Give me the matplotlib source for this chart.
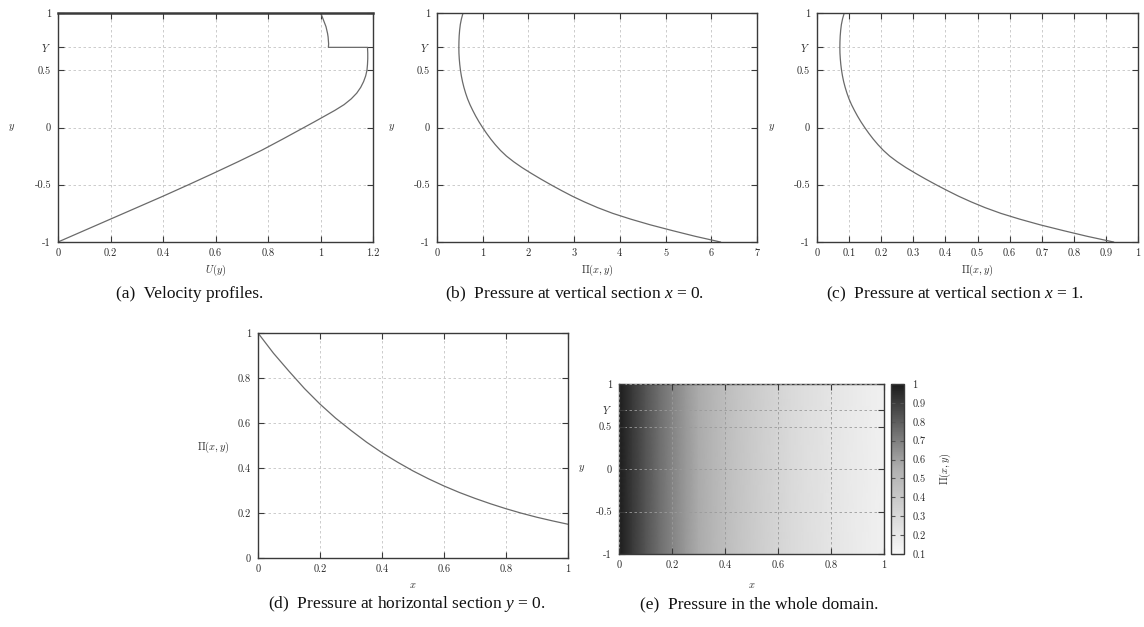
import numpy as np
import matplotlib
matplotlib.use("Agg")
import matplotlib.pyplot as plt
from matplotlib.colors import LinearSegmentedColormap

# ---------------- data ----------------
# (a) velocity profile U(y): lower branch up to y = Y, then jump, then upper branch
velocity_y = [-1.0, -0.9, -0.8, -0.7, -0.6, -0.5, -0.4, -0.3, -0.2, -0.15, -0.1, -0.05, 0.0,
              0.05, 0.1, 0.15, 0.2, 0.25, 0.3, 0.35, 0.4, 0.45, 0.5, 0.55, 0.6, 0.65, 0.7,
              0.7, 0.73, 0.76, 0.79, 0.82, 0.85, 0.88, 0.91, 0.94, 0.97, 1.0]
velocity_u = [0.0, 0.10, 0.20, 0.30, 0.40, 0.497, 0.592, 0.685, 0.775, 0.816, 0.857, 0.897, 0.937,
              0.977, 1.016, 1.055, 1.090, 1.117, 1.138, 1.153, 1.164, 1.172, 1.177, 1.179, 1.180, 1.180, 1.179,
              1.030, 1.031, 1.030, 1.029, 1.027, 1.024, 1.021, 1.016, 1.011, 1.006, 1.000]

# (b), (c) pressure at vertical sections x = 0 and x = 1
section_y = [1.0, 0.95, 0.9, 0.85, 0.8, 0.75, 0.7, 0.65, 0.6, 0.55, 0.5, 0.45, 0.4, 0.35, 0.3,
             0.25, 0.2, 0.15, 0.1, 0.05, 0.0, -0.05, -0.1, -0.15, -0.2, -0.25, -0.3, -0.35, -0.4,
             -0.45, -0.5, -0.55, -0.6, -0.65, -0.7, -0.75, -0.8, -0.85, -0.9, -0.95, -1.0]
pressure_x0 = [0.57, 0.535, 0.51, 0.495, 0.485, 0.48, 0.478, 0.48, 0.487, 0.498, 0.513, 0.533, 0.558, 0.589, 0.626,
               0.669, 0.721, 0.781, 0.846, 0.918, 0.997, 1.082, 1.174, 1.275, 1.388, 1.52, 1.68, 1.86, 2.06,
               2.27, 2.49, 2.72, 2.96, 3.225, 3.515, 3.845, 4.235, 4.665, 5.145, 5.645, 6.20]
pressure_x1 = [0.0849, 0.0797, 0.0760, 0.0738, 0.0723, 0.0715, 0.0712, 0.0715, 0.0726, 0.0742, 0.0764, 0.0794,
               0.0831, 0.0878, 0.0933, 0.0997, 0.1074, 0.1164, 0.1261, 0.1368, 0.1486, 0.1612, 0.1749, 0.1900,
               0.2068, 0.2265, 0.2503, 0.2771, 0.3069, 0.3382, 0.3710, 0.4053, 0.4410, 0.4805, 0.5237, 0.5729,
               0.6310, 0.6951, 0.7666, 0.8411, 0.9238]

# (d) pressure at horizontal section y = 0 (also the x-variation of panel (e))
section_x = [0.0, 0.05, 0.1, 0.15, 0.2, 0.25, 0.3, 0.35, 0.4, 0.45, 0.5,
             0.55, 0.6, 0.65, 0.7, 0.75, 0.8, 0.85, 0.9, 0.95, 1.0]
pressure_y0 = [1.0, 0.91, 0.83, 0.753, 0.684, 0.622, 0.567, 0.515, 0.468, 0.426, 0.387,
               0.352, 0.32, 0.291, 0.265, 0.241, 0.219, 0.199, 0.181, 0.165, 0.150]

# ticks
Y_LEVEL = 0.7
y_ticks = [-1, -0.5, 0, 0.5, Y_LEVEL, 1]
y_tick_labels = ["-1", "-0.5", "0", "0.5", "$Y$", "1"]
a_xticks = [0, 0.2, 0.4, 0.6, 0.8, 1.0, 1.2]
a_xlabels = ["0", "0.2", "0.4", "0.6", "0.8", "1", "1.2"]
b_xticks = [0, 1, 2, 3, 4, 5, 6, 7]
b_xlabels = ["0", "1", "2", "3", "4", "5", "6", "7"]
c_xticks = [0, 0.1, 0.2, 0.3, 0.4, 0.5, 0.6, 0.7, 0.8, 0.9, 1.0]
c_xlabels = ["0", "0.1", "0.2", "0.3", "0.4", "0.5", "0.6", "0.7", "0.8", "0.9", "1"]
unit_ticks = [0, 0.2, 0.4, 0.6, 0.8, 1.0]
unit_labels = ["0", "0.2", "0.4", "0.6", "0.8", "1"]
cbar_ticks = [0.1, 0.2, 0.3, 0.4, 0.5, 0.6, 0.7, 0.8, 0.9, 1.0]
cbar_labels = ["0.1", "0.2", "0.3", "0.4", "0.5", "0.6", "0.7", "0.8", "0.9", "1"]
cbar_range = (0.1, 1.0)

captions = [
    "(a)  Velocity profiles.",
    "(b)  Pressure at vertical section $x$ = 0.",
    "(c)  Pressure at vertical section $x$ = 1.",
    "(d)  Pressure at horizontal section $y$ = 0.",
    "(e)  Pressure in the whole domain.",
]

# ---------------- styling ----------------
plt.rcParams["mathtext.fontset"] = "custom"
plt.rcParams["mathtext.rm"] = "Liberation Serif"
plt.rcParams["mathtext.it"] = "Liberation Serif:italic"

W, H = 1144, 627
fig = plt.figure(figsize=(W / 100, H / 100), dpi=100)

SPINE = "#3a3a3a"
TXT = "#2a2a2a"
CURVE = "#6a6a6a"
GRID = "#c4c4c4"
TICKFS = 7.5


def px_axes(l, t, r, b):
    return fig.add_axes([l / W, 1 - b / H, (r - l) / W, (b - t) / H])


def style(ax, xticks, xlabels, yticks, ylabels, grid_on_top=False):
    ax.set_xticks(xticks)
    ax.set_xticklabels(xlabels)
    ax.set_yticks(yticks)
    ax.set_yticklabels(ylabels)
    for lbl in ax.get_xticklabels() + ax.get_yticklabels():
        lbl.set_fontfamily("cmr10")
        lbl.set_math_fontfamily("cm")
        lbl.set_fontsize(TICKFS)
        lbl.set_color(TXT)
    ax.tick_params(direction="in", top=True, right=True, length=4, width=0.8,
                   color=SPINE, pad=5)
    ax.grid(True, color=GRID, linestyle=(0, (3, 3)), linewidth=0.6)
    ax.set_axisbelow(not grid_on_top)
    for s in ax.spines.values():
        s.set_color(SPINE)
        s.set_linewidth(1.0)


def label(ax, which, text, x, y, rotation=0):
    if which == "x":
        ax.set_xlabel(text, fontsize=TICKFS, color=TXT, math_fontfamily="cm",
                      va="center")
        ax.xaxis.set_label_coords(x, y)
    else:
        ax.set_ylabel(text, fontsize=TICKFS, color=TXT, math_fontfamily="cm",
                      rotation=rotation, va="center", ha="center")
        ax.yaxis.set_label_coords(x, y)


# (a)
ax_a = px_axes(58, 13, 373, 242)
ax_a.plot(velocity_u, velocity_y, color=CURVE, lw=0.9)
ax_a.set_xlim(0, 1.2)
ax_a.set_ylim(-1, 1)
style(ax_a, a_xticks, a_xlabels, y_ticks, y_tick_labels)
ax_a.spines["top"].set_linewidth(1.8)
label(ax_a, "x", "$U(y)$", 0.5, -0.122)
label(ax_a, "y", "$y$", -0.147, 0.5)

# (b)
ax_b = px_axes(437, 13, 757, 242)
ax_b.plot(pressure_x0, section_y, color=CURVE, lw=0.9)
ax_b.set_xlim(0, 7)
ax_b.set_ylim(-1, 1)
style(ax_b, b_xticks, b_xlabels, y_ticks, y_tick_labels)
label(ax_b, "x", r"$\Pi(x,y)$", 0.5, -0.122)
label(ax_b, "y", "$y$", -0.142, 0.5)

# (c)
ax_c = px_axes(817, 13, 1138, 242)
ax_c.plot(pressure_x1, section_y, color=CURVE, lw=0.9)
ax_c.set_xlim(0, 1)
ax_c.set_ylim(-1, 1)
style(ax_c, c_xticks, c_xlabels, y_ticks, y_tick_labels)
label(ax_c, "x", r"$\Pi(x,y)$", 0.5, -0.122)
label(ax_c, "y", "$y$", -0.142, 0.5)

# (d)
ax_d = px_axes(258, 333, 568, 558)
ax_d.plot(section_x, pressure_y0, color=CURVE, lw=0.9)
ax_d.set_xlim(0, 1)
ax_d.set_ylim(0, 1)
style(ax_d, unit_ticks, unit_labels, unit_ticks, unit_labels)
label(ax_d, "x", "$x$", 0.5, -0.12)
label(ax_d, "y", r"$\Pi(x,y)$", -0.145, 0.49)

# (e)
cmap = LinearSegmentedColormap.from_list(
    "gp_gray", [(0.0, "#f8f8f8"), (0.5, "#b0b0b0"), (1.0, "#1c1c1c")])
ax_e = px_axes(619, 384, 884, 554)
XX, YY = np.meshgrid(section_x, [-1.0, 1.0])
ZZ = np.tile(np.asarray(pressure_y0), (2, 1))
mesh = ax_e.pcolormesh(XX, YY, ZZ, shading="gouraud", cmap=cmap,
                       vmin=cbar_range[0], vmax=cbar_range[1], zorder=0)
ax_e.set_xlim(0, 1)
ax_e.set_ylim(-1, 1)
style(ax_e, unit_ticks, unit_labels, y_ticks, y_tick_labels, grid_on_top=True)
ax_e.grid(True, color="#9a9a9a", linestyle=(0, (3, 3)), linewidth=0.6)
label(ax_e, "x", "$x$", 0.5, -0.182)
label(ax_e, "y", "$y$", -0.143, 0.5)

cax = px_axes(891, 384, 904, 554)
cb = fig.colorbar(mesh, cax=cax, ticks=cbar_ticks)
cb.set_ticklabels(cbar_labels)
cb.outline.set_edgecolor(SPINE)
cb.outline.set_linewidth(1.0)
cax.tick_params(direction="in", left=True, right=True, length=3, width=0.8,
                color="#555555", pad=6)
for lbl in cax.get_yticklabels():
    lbl.set_fontfamily("cmr10")
    lbl.set_fontsize(TICKFS)
    lbl.set_color(TXT)
cax.set_ylabel(r"$\Pi(x,y)$", fontsize=TICKFS, color=TXT, math_fontfamily="cm",
               rotation=90, va="center", ha="center")
cax.yaxis.set_label_coords(4.15, 0.5)

# captions
cap_pos = [(190, 294), (575, 294), (955, 294), (407, 604), (759, 604)]
for text, (x, y) in zip(captions, cap_pos):
    fig.text(x / W, 1 - y / H, text, ha="center", va="center", fontsize=12.5,
             family="Liberation Serif", color="#111111")

fig.savefig("out.png", dpi=100)
